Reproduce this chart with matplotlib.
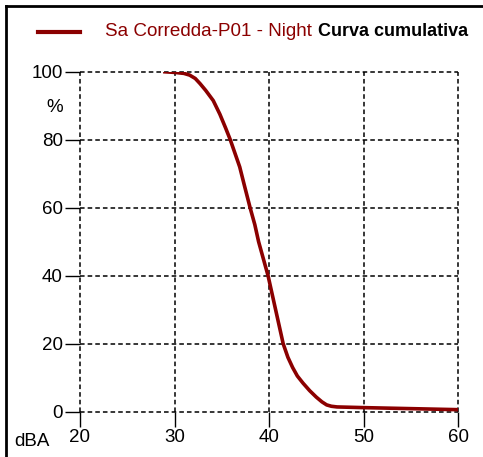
import matplotlib
matplotlib.use('Agg')
import matplotlib.pyplot as plt
from matplotlib.lines import Line2D

# Cumulative curve
levels = [28.8, 30.0, 31.0, 31.6, 32.2, 32.7, 33.3, 34.1, 34.8, 35.4, 35.9,
          36.4, 36.9, 37.4, 38.0, 38.5, 38.9, 39.4, 39.9, 40.3, 40.7,
          41.1, 41.5, 42.0, 42.5, 43.0, 43.6, 44.3, 45.0, 45.6, 46.1, 46.6, 47.2,
          50.0, 55.0, 60.0]
percent = [100, 99.8, 99.5, 99.0, 98.0, 96.5, 94.5, 91.5, 87.5, 83.5, 80.0,
           76.0, 72.0, 66.5, 60.0, 55.0, 50.0, 45.0, 40.0, 35.0, 30.0,
           25.0, 20.0, 16.0, 13.0, 10.5, 8.4, 6.2, 4.3, 2.9, 2.0, 1.6, 1.4,
           1.2, 0.9, 0.6]
x_ticks = [20, 30, 40, 50, 60]
y_ticks = [0, 20, 40, 60, 80, 100]
series_name = 'Sa Corredda-P01 - Night'
title = 'Curva cumulativa'

plt.rcParams['font.family'] = ['Liberation Sans', 'DejaVu Sans']
red = '#8b0000'

W, H = 483, 457
fig = plt.figure(figsize=(W / 100, H / 100), dpi=100)
ax = fig.add_axes([80 / W, 1 - 411.7 / H, 378 / W, 340 / H])

ax.plot(levels, percent, color=red, linewidth=2.6, solid_capstyle='butt')

ax.set_xlim(20, 60)
ax.set_ylim(0, 100)
ax.set_xticks(x_ticks)
ax.set_yticks(y_ticks)
for s in ax.spines.values():
    s.set_visible(False)
ax.tick_params(length=10.5, width=1, color='black', pad=2, labelsize=13.5)
ax.grid(True, color='black', linestyle=(0, (3, 2)), linewidth=1.1)
for gl in ax.get_xgridlines() + ax.get_ygridlines():
    gl.set_clip_on(False)
ax.set_axisbelow(True)

# axis captions
fig.text(55 / W, 1 - 107 / H, '%', ha='center', va='center', fontsize=13.5)
fig.text(14 / W, 1 - 442 / H, 'dBA', ha='left', va='center', fontsize=13.5)

# legend + title row
fig.add_artist(Line2D([38 / W, 80 / W], [1 - 32 / H, 1 - 32 / H],
                      color=red, linewidth=3))
fig.text(105 / W, 1 - 31 / H, series_name, ha='left', va='center',
         fontsize=13.6, color=red)
fig.text(318 / W, 1 - 32 / H, title, ha='left', va='center',
         fontsize=13, fontweight='bold')

# outer frame (left and top edges)
fig.add_artist(Line2D([6 / W, 6 / W], [0, 1 - 5.5 / H], color='black', linewidth=2))
fig.add_artist(Line2D([6 / W, 1], [1 - 5.5 / H, 1 - 5.5 / H], color='black', linewidth=2))

fig.savefig('out.png', dpi=100)
